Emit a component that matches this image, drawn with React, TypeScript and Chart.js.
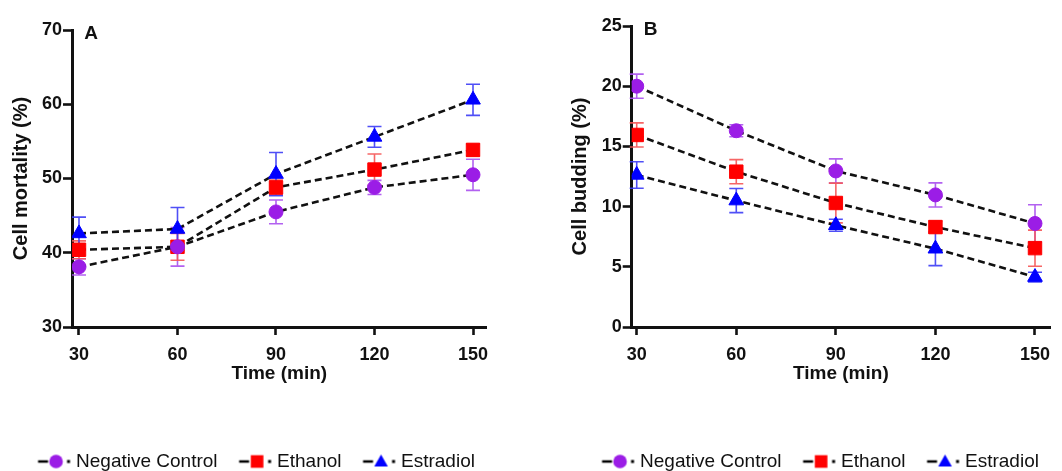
import React, { useEffect, useRef } from 'react';
import { Chart, registerables } from 'chart.js';

Chart.register(...registerables);

const FONT = "'Liberation Sans', Arial, Helvetica, sans-serif";

// ---------- data ----------
const timePoints = [30, 60, 90, 120, 150];
const xTickValues = [30, 60, 90, 120, 150];
const seriesNames = ['Negative Control', 'Ethanol', 'Estradiol'];

// Panel A: Cell mortality (%)
const mortalityNegative = [38.1, 40.8, 45.5, 48.8, 50.5];
const mortalityNegativeErr = [1.1, 2.6, 1.6, 0.95, 2.1];
const mortalityEthanol = [40.4, 40.8, 48.8, 51.2, 53.85];
const mortalityEthanolErr = [1.2, 1.8, 1.0, 2.1, 0.8];
const mortalityEstradiol = [42.6, 43.2, 50.6, 55.6, 60.6];
const mortalityEstradiolErr = [2.2, 2.9, 2.9, 1.4, 2.1];
const mortalityTicks = [30, 40, 50, 60, 70];

// Panel B: Cell budding (%)
const buddingNegative = [20.0, 16.3, 12.96, 10.97, 8.6];
const buddingNegativeErr = [1.0, 0.5, 1.0, 1.0, 1.55];
const buddingEthanol = [15.95, 12.9, 10.3, 8.3, 6.55];
const buddingEthanolErr = [1.0, 1.0, 1.65, 0.5, 1.5];
const buddingEstradiol = [12.63, 10.5, 8.45, 6.5, 4.15];
const buddingEstradiolErr = [1.1, 1.0, 0.5, 1.4, 0.4];
const buddingTicks = [0, 5, 10, 15, 20, 25];

// ---------- styles ----------
const markerColors = ['#9b1de6', '#ff0000', '#0000ff'];
const errorColors = ['rgba(170,80,238,0.9)', 'rgba(245,85,85,0.9)', 'rgba(60,60,245,0.9)'];
const pointStyles = ['circle', 'rect', 'triangle'];
const pointRadii = [7, 9.5, 8.5];

const LEGEND_FONT = 19;
const LEGEND_PAD = 10;
const CANVAS_H = 481;
const CHART_BOTTOM = 327;
const LEGEND_H = LEGEND_FONT + LEGEND_PAD + 10;
const X_AXIS_H = CANVAS_H - LEGEND_H - CHART_BOTTOM;
const X_TITLE_CENTER = 374;
const X_TITLE_PAD = CANVAS_H - LEGEND_H - X_TITLE_CENTER - (19 * 1.2) / 2;

function makeLegendIcon(i: number): HTMLCanvasElement {
  const c = document.createElement('canvas');
  c.width = 52;
  c.height = 20;
  const ctx = c.getContext('2d')!;
  const g = 17.5;
  const cy = 10;
  ctx.strokeStyle = '#000';
  ctx.lineWidth = 2.5;
  ctx.beginPath();
  ctx.moveTo(g, cy);
  ctx.lineTo(g + 10, cy);
  ctx.stroke();
  ctx.fillStyle = markerColors[i];
  const cx = g + 18;
  if (i === 0) {
    ctx.beginPath();
    ctx.arc(cx, cy, 6.8, 0, Math.PI * 2);
    ctx.fill();
  } else if (i === 1) {
    ctx.fillRect(cx - 6.3, cy - 6.3, 12.6, 12.6);
  } else {
    ctx.beginPath();
    ctx.moveTo(cx, cy - 7);
    ctx.lineTo(cx + 6.8, cy + 5);
    ctx.lineTo(cx - 6.8, cy + 5);
    ctx.closePath();
    ctx.fill();
  }
  ctx.fillStyle = '#000';
  ctx.fillRect(g + 29, cy - 1.5, 3, 3);
  return c;
}

const errorBarPlugin = {
  id: 'errorBars',
  beforeDatasetsDraw(chart: any) {
    const { ctx } = chart;
    const xs = chart.scales.x;
    const ys = chart.scales.y;
    chart.data.datasets.forEach((ds: any) => {
      const errs: number[] = ds.errors;
      if (!errs) return;
      ctx.save();
      ctx.strokeStyle = ds.errorColor;
      ctx.lineWidth = 1.6;
      ds.data.forEach((pt: any, i: number) => {
        const px = xs.getPixelForValue(pt.x);
        const top = ys.getPixelForValue(pt.y + errs[i]);
        const bot = ys.getPixelForValue(pt.y - errs[i]);
        ctx.beginPath();
        ctx.moveTo(px, top);
        ctx.lineTo(px, bot);
        ctx.moveTo(px - 7, top);
        ctx.lineTo(px + 7, top);
        ctx.moveTo(px - 7, bot);
        ctx.lineTo(px + 7, bot);
        ctx.stroke();
      });
      ctx.restore();
    });
  },
};

const panelLabelPlugin = {
  id: 'panelLabel',
  afterDraw(chart: any, _args: any, opts: any) {
    if (!opts || !opts.text) return;
    const { ctx, chartArea } = chart;
    ctx.save();
    ctx.font = `bold 19px ${FONT}`;
    ctx.fillStyle = '#111';
    ctx.textAlign = 'center';
    ctx.textBaseline = 'middle';
    ctx.fillText(opts.text, chartArea.left + 19, chartArea.top + 4);
    ctx.restore();
  },
};

interface PanelProps {
  series: number[][];
  errors: number[][];
  yTicks: number[];
  yTitle: string;
  label: string;
  xMin: number;
  xMax: number;
  padLeft: number;
  padRight: number;
  padTop: number;
  yAxisWidth: number;
  yTitlePad: number;
}

function buildConfig(p: PanelProps, icons: HTMLCanvasElement[]): any {
  const datasets = p.series.map((vals, i) => ({
    label: seriesNames[i],
    data: vals.map((v, j) => ({ x: timePoints[j], y: v })),
    errors: p.errors[i],
    errorColor: errorColors[i],
    borderColor: '#111',
    borderWidth: 2.6,
    borderDash: [7, 4],
    backgroundColor: markerColors[i],
    pointStyle: pointStyles[i],
    pointRadius: pointRadii[i],
    pointBackgroundColor: markerColors[i],
    pointBorderColor: markerColors[i],
    pointBorderWidth: 1,
    pointHoverRadius: pointRadii[i],
    fill: false,
    tension: 0,
  }));
  return {
    type: 'line',
    data: { datasets },
    plugins: [errorBarPlugin, panelLabelPlugin],
    options: {
      responsive: false,
      animation: false,
      events: [],
      layout: { padding: { left: p.padLeft, right: p.padRight, top: p.padTop, bottom: 0 } },
      plugins: {
        tooltip: { enabled: false },
        panelLabel: { text: p.label },
        legend: {
          display: true,
          position: 'bottom',
          labels: {
            usePointStyle: true,
            pointStyleWidth: 40,
            padding: LEGEND_PAD,
            color: '#111',
            font: { size: LEGEND_FONT, family: FONT },
            generateLabels: (chart: any) =>
              chart.data.datasets.map((ds: any, i: number) => ({
                text: ds.label,
                pointStyle: icons[i],
                fillStyle: markerColors[i],
                strokeStyle: markerColors[i],
                lineWidth: 0,
                hidden: false,
                datasetIndex: i,
                fontColor: '#111',
              })),
          },
        },
      },
      scales: {
        x: {
          type: 'linear',
          min: p.xMin,
          max: p.xMax,
          afterBuildTicks: (scale: any) => {
            scale.ticks = xTickValues.map((v) => ({ value: v }));
          },
          afterFit: (scale: any) => {
            scale.height = X_AXIS_H;
          },
          grid: { display: true, drawOnChartArea: false, drawTicks: true, tickLength: 8, tickWidth: 2.6, tickColor: '#111' },
          border: { display: true, width: 3, color: '#111' },
          ticks: { color: '#111', padding: 9, maxRotation: 0, font: { size: 18, weight: 'bold', family: FONT } },
          title: {
            display: true,
            text: 'Time (min)',
            color: '#111',
            font: { size: 19, weight: 'bold', family: FONT },
            padding: { top: 0, bottom: X_TITLE_PAD },
          },
        },
        y: {
          type: 'linear',
          min: p.yTicks[0],
          max: p.yTicks[p.yTicks.length - 1],
          afterBuildTicks: (scale: any) => {
            scale.ticks = p.yTicks.map((v) => ({ value: v }));
          },
          afterFit: (scale: any) => {
            scale.width = p.yAxisWidth;
          },
          grid: { display: true, drawOnChartArea: false, drawTicks: true, tickLength: 9, tickWidth: 2.6, tickColor: '#111' },
          border: { display: true, width: 3, color: '#111' },
          ticks: { color: '#111', padding: 1, font: { size: 18, weight: 'bold', family: FONT } },
          title: {
            display: true,
            text: p.yTitle,
            color: '#111',
            font: { size: 20, weight: 'bold', family: FONT },
            padding: { top: p.yTitlePad, bottom: 0 },
          },
        },
      },
    },
  };
}

function Panel(props: PanelProps & { left: number }) {
  const ref = useRef<HTMLCanvasElement>(null);
  useEffect(() => {
    if (!ref.current) return;
    const icons = [0, 1, 2].map((i) => makeLegendIcon(i));
    const chart = new Chart(ref.current, buildConfig(props, icons));
    return () => chart.destroy();
  }, []);
  return (
    <div style={{ position: 'absolute', left: props.left, top: 0, width: 531, height: CANVAS_H }}>
      <canvas ref={ref} width={531} height={CANVAS_H} style={{ display: 'block' }} />
    </div>
  );
}

export default function App() {
  return (
    <div
      style={{
        position: 'absolute',
        left: 0,
        top: 0,
        width: 1062,
        height: 471,
        overflow: 'hidden',
        background: '#ffffff',
      }}
    >
      <Panel
        left={0}
        series={[mortalityNegative, mortalityEthanol, mortalityEstradiol]}
        errors={[mortalityNegativeErr, mortalityEthanolErr, mortalityEstradiolErr]}
        yTicks={mortalityTicks}
        yTitle="Cell mortality (%)"
        label="A"
        xMin={27.87}
        xMax={154.11}
        padLeft={15}
        padRight={44.5}
        padTop={30}
        yAxisWidth={57}
        yTitlePad={-6}
      />
      <Panel
        left={531}
        series={[buddingNegative, buddingEthanol, buddingEstradiol]}
        errors={[buddingNegativeErr, buddingEthanolErr, buddingEstradiolErr]}
        yTicks={buddingTicks}
        yTitle="Cell budding (%)"
        label="B"
        xMin={28.49}
        xMax={154.52}
        padLeft={48.5}
        padRight={12}
        padTop={26}
        yAxisWidth={52.2}
        yTitlePad={-11.5}
      />
    </div>
  );
}
